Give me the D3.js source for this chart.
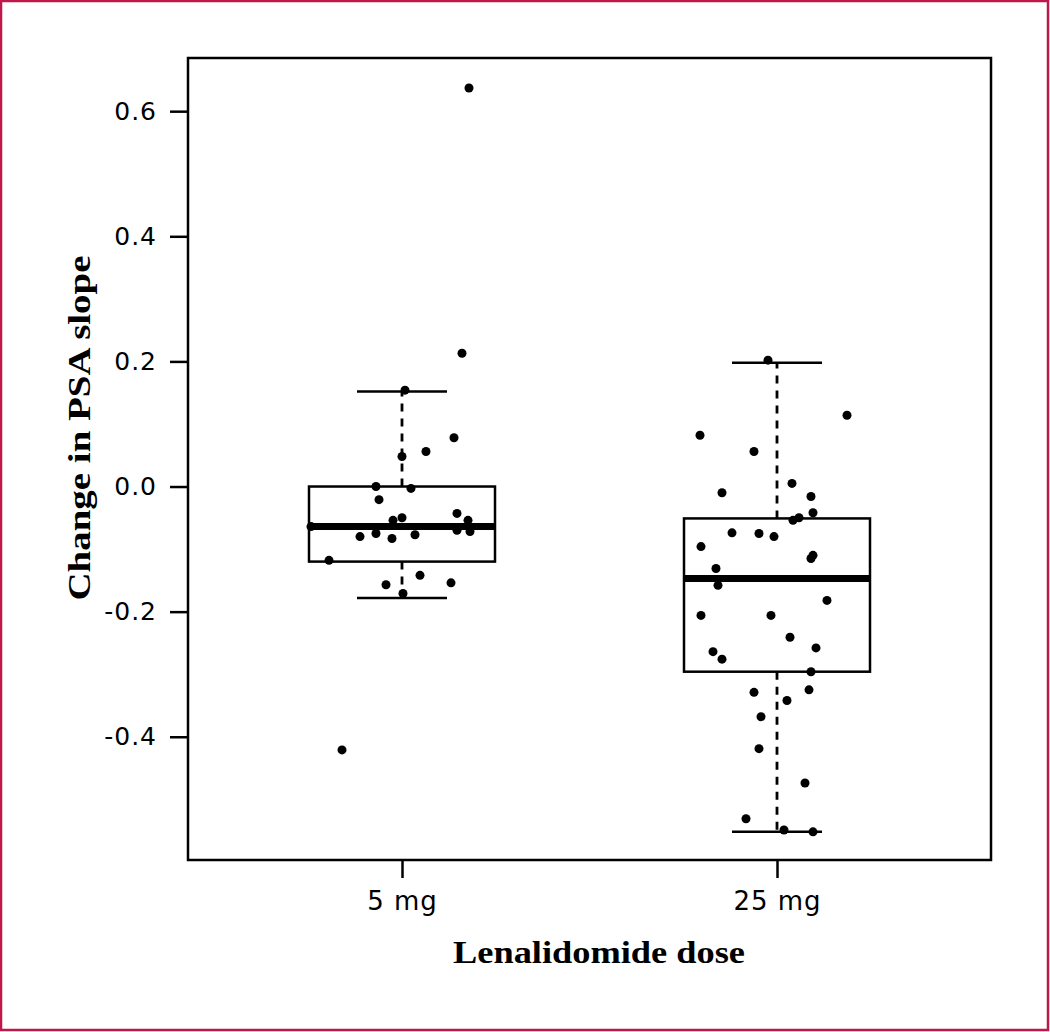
<!DOCTYPE html>
<html>
<head>
<meta charset="utf-8">
<script src="https://cdn.jsdelivr.net/npm/d3@7"></script>
<style>
  body { margin: 0; background: #fff; }
  svg { display: block; }
</style>
</head>
<body>
<div id="container"></div>
<script>
// data
var groups = ["5 mg", "25 mg"];
var yTicks = [-0.4, -0.2, 0.0, 0.2, 0.4, 0.6];

// box stats: lower whisker, Q1, median, Q3, upper whisker
var stats5 = [-0.178, -0.120, -0.064, 0.000, 0.152];
var stats25 = [-0.552, -0.296, -0.147, -0.051, 0.198];

// jittered points: [x offset from group centre (px), value]
var pts5 = [
  [67, 0.637], [60, 0.213], [3, 0.154], [52, 0.078], [24, 0.056], [0, 0.048],
  [-26, 0.000], [9, -0.003], [-23, -0.021], [55, -0.043], [0, -0.050],
  [-9, -0.054], [66, -0.054], [-91, -0.064], [55, -0.070], [68, -0.072],
  [-42, -0.080], [-26, -0.075], [-10, -0.083], [13, -0.077], [-73, -0.118],
  [18, -0.142], [-16, -0.157], [49, -0.154], [1, -0.171], [-60, -0.421]
];
var pts25 = [
  [-9, 0.202], [70, 0.114], [-77, 0.082], [-23, 0.056], [-55, -0.010],
  [15, 0.005], [34, -0.016], [36, -0.042], [16, -0.054], [22, -0.050],
  [-45, -0.074], [-18, -0.075], [-3, -0.080], [-76, -0.096], [36, -0.110],
  [34, -0.115], [-61, -0.131], [-59, -0.158], [50, -0.182], [-76, -0.206],
  [-6, -0.206], [13, -0.241], [39, -0.258], [-64, -0.264], [-55, -0.276],
  [34, -0.296], [-23, -0.329], [32, -0.325], [10, -0.342], [-16, -0.368],
  [-18, -0.419], [28, -0.474], [-31, -0.531], [7, -0.549], [36, -0.552]
];

var W = 1050, H = 1032;
var svg = d3.select("#container").append("svg")
  .attr("width", W)
  .attr("height", H);

// crimson outer frame
svg.append("rect")
  .attr("x", 1).attr("y", 1)
  .attr("width", W - 3).attr("height", H - 3)
  .attr("fill", "#fff")
  .attr("stroke", "#c0174a")
  .attr("stroke-width", 2.5);

var plotL = 188, plotR = 991, plotT = 58, plotB = 860;

var y = d3.scaleLinear()
  .domain([-0.597, 0.685])
  .range([plotB, plotT]);

var x = d3.scalePoint()
  .domain(groups)
  .range([402, 777]);

// plot box
svg.append("rect")
  .attr("x", plotL).attr("y", plotT)
  .attr("width", plotR - plotL).attr("height", plotB - plotT)
  .attr("fill", "none")
  .attr("stroke", "#000")
  .attr("stroke-width", 2.5);

// y axis (plain hyphen for negatives, like the original)
var fmt = d3.format(".1f");
var yAxis = d3.axisLeft(y)
  .tickValues(yTicks)
  .tickSize(18)
  .tickPadding(13)
  .tickFormat(function(d) { return fmt(d).replace("\u2212", "-"); });

var gy = svg.append("g")
  .attr("transform", "translate(" + plotL + ",0)")
  .call(yAxis);
gy.select(".domain").remove();
gy.selectAll("line").attr("stroke", "#000").attr("stroke-width", 2.5);
gy.selectAll("text")
  .attr("font-family", "'DejaVu Sans', sans-serif")
  .attr("font-size", "25px")
  .attr("letter-spacing", "1px")
  .attr("fill", "#000");

// x axis
var xAxis = d3.axisBottom(x).tickSize(18).tickPadding(14);
var gx = svg.append("g")
  .attr("transform", "translate(0," + plotB + ")")
  .call(xAxis);
gx.select(".domain").remove();
gx.selectAll("line").attr("stroke", "#000").attr("stroke-width", 2.5);
gx.selectAll("text")
  .attr("font-family", "'DejaVu Sans', sans-serif")
  .attr("font-size", "26px")
  .attr("letter-spacing", "1px")
  .attr("fill", "#000");

// axis titles
svg.append("text")
  .attr("transform", "translate(90,428) rotate(-90)")
  .attr("text-anchor", "middle")
  .attr("font-family", "'Liberation Serif', serif")
  .attr("font-weight", "bold")
  .attr("font-size", "32px")
  .attr("textLength", 345)
  .attr("lengthAdjust", "spacingAndGlyphs")
  .text("Change in PSA slope");

svg.append("text")
  .attr("x", 599).attr("y", 963)
  .attr("text-anchor", "middle")
  .attr("font-family", "'Liberation Serif', serif")
  .attr("font-weight", "bold")
  .attr("font-size", "32px")
  .attr("textLength", 292)
  .attr("lengthAdjust", "spacingAndGlyphs")
  .text("Lenalidomide dose");

// boxes
var boxes = [
  { g: groups[0], s: stats5, half: 93, cap: 45 },
  { g: groups[1], s: stats25, half: 93, cap: 45 }
];

boxes.forEach(function(b) {
  var cx = x(b.g);
  var s = b.s;
  // whiskers
  svg.append("line")
    .attr("x1", cx).attr("x2", cx)
    .attr("y1", y(s[3])).attr("y2", y(s[4]))
    .attr("stroke", "#000").attr("stroke-width", 2.8)
    .attr("stroke-dasharray", "8,7");
  svg.append("line")
    .attr("x1", cx).attr("x2", cx)
    .attr("y1", y(s[1])).attr("y2", y(s[0]))
    .attr("stroke", "#000").attr("stroke-width", 2.8)
    .attr("stroke-dasharray", "8,7");
  // caps
  [s[0], s[4]].forEach(function(v) {
    svg.append("line")
      .attr("x1", cx - b.cap).attr("x2", cx + b.cap)
      .attr("y1", y(v)).attr("y2", y(v))
      .attr("stroke", "#000").attr("stroke-width", 2.5);
  });
  // box
  svg.append("rect")
    .attr("x", cx - b.half).attr("y", y(s[3]))
    .attr("width", b.half * 2).attr("height", y(s[1]) - y(s[3]))
    .attr("fill", "none")
    .attr("stroke", "#000").attr("stroke-width", 2.5);
  // median
  svg.append("line")
    .attr("x1", cx - b.half).attr("x2", cx + b.half)
    .attr("y1", y(s[2])).attr("y2", y(s[2]))
    .attr("stroke", "#000").attr("stroke-width", 7);
});

// points
function drawPoints(pts, g) {
  svg.append("g").selectAll("circle")
    .data(pts).enter()
    .append("circle")
    .attr("cx", function(d) { return x(g) + d[0]; })
    .attr("cy", function(d) { return y(d[1]); })
    .attr("r", 4.5)
    .attr("fill", "#000");
}
drawPoints(pts5, groups[0]);
drawPoints(pts25, groups[1]);
</script>
</body>
</html>
